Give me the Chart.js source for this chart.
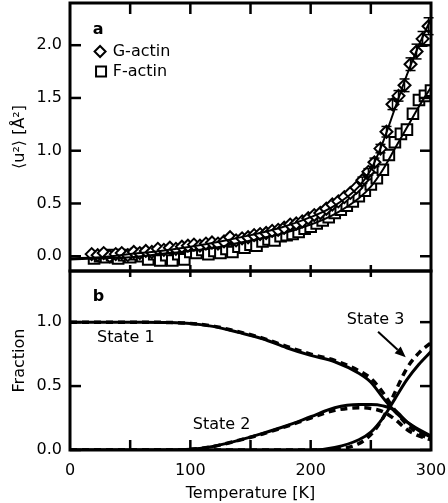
<!DOCTYPE html>
<html>
<head>
<meta charset="utf-8">
<script src="https://cdn.jsdelivr.net/npm/chart.js@4.4.0/dist/chart.umd.min.js"></script>
<style>
  body { margin: 0; background: #fff; }
  #wrap { position: relative; width: 448px; height: 503px; }
  #wrap canvas { position: absolute; left: 0; top: 0; }
</style>
</head>
<body>
<div id="wrap">
  <canvas id="msdChart" width="448" height="503"></canvas>
  <canvas id="fracChart" width="448" height="503"></canvas>
</div>
<script>
// ---- panel a: <u^2> vs temperature ----
const tempG = [18, 23, 28, 33, 38, 43, 48, 53, 58, 63, 68, 73, 78, 83, 88, 93, 98, 103, 108, 113,
  118, 123, 128, 133, 138, 143, 148, 153, 158, 163, 168, 173, 178, 183, 188, 193, 198, 203, 208, 213,
  218, 223, 228, 233, 238, 243, 248, 253, 258, 263, 268, 273, 278, 283, 288, 293, 298];
const msdG = [0.02, 0.01, 0.03, 0.00, 0.02, 0.03, 0.01, 0.04, 0.03, 0.05, 0.04, 0.07, 0.06, 0.08, 0.07, 0.09, 0.10, 0.11, 0.10, 0.12,
  0.13, 0.12, 0.14, 0.18, 0.15, 0.17, 0.18, 0.20, 0.21, 0.22, 0.24, 0.25, 0.27, 0.30, 0.31, 0.33, 0.36, 0.39, 0.41, 0.45,
  0.49, 0.52, 0.56, 0.60, 0.65, 0.72, 0.80, 0.89, 1.02, 1.18, 1.44, 1.52, 1.62, 1.82, 1.94, 2.06, 2.18];
const errG = [0, 0, 0, 0, 0, 0, 0, 0, 0, 0, 0, 0, 0, 0, 0, 0, 0, 0, 0, 0,
  0, 0, 0, 0, 0, 0, 0, 0, 0, 0, 0, 0, 0, 0, 0, 0, 0, 0, 0, 0,
  0, 0, 0, 0, 0, 0.03, 0.03, 0.04, 0.04, 0.05, 0.05, 0.05, 0.06, 0.06, 0.07, 0.07, 0.08];
const tempF = [20, 25, 30, 35, 40, 45, 50, 55, 60, 65, 70, 75, 80, 85, 90, 95, 100, 105, 110, 115,
  120, 125, 130, 135, 140, 145, 150, 155, 160, 165, 170, 175, 180, 185, 190, 195, 200, 205, 210, 215,
  220, 225, 230, 235, 240, 245, 250, 255, 260, 265, 270, 275, 280, 285, 290, 295, 300];
const msdF = [-0.02, 0.00, -0.01, 0.01, -0.02, 0.01, -0.01, 0.02, 0.00, -0.03, 0.02, -0.04, 0.01, -0.04, 0.02, -0.03, 0.04, 0.03, 0.06, 0.02,
  0.05, 0.03, 0.07, 0.04, 0.09, 0.08, 0.11, 0.10, 0.14, 0.16, 0.15, 0.19, 0.20, 0.21, 0.23, 0.26, 0.28, 0.31, 0.34, 0.37,
  0.41, 0.44, 0.48, 0.52, 0.57, 0.62, 0.68, 0.74, 0.82, 0.96, 1.08, 1.16, 1.20, 1.35, 1.48, 1.52, 1.57];
const fitTempA = [0, 25, 50, 75, 100, 125, 150, 175, 200, 220, 240, 250, 260, 270, 280, 290, 300];
const fitG = [-0.02, -0.01, 0.02, 0.05, 0.09, 0.14, 0.20, 0.27, 0.37, 0.48, 0.66, 0.82, 1.08, 1.40, 1.72, 2.00, 2.25];
const fitF = [-0.03, -0.02, -0.01, 0.02, 0.05, 0.09, 0.15, 0.21, 0.30, 0.40, 0.55, 0.66, 0.82, 1.02, 1.22, 1.42, 1.60];

// ---- panel b: state fractions ----
const fitTempB = [0, 20, 40, 60, 80, 100, 120, 140, 160, 180, 200, 220, 240, 250, 260, 270, 280, 290, 300];
const state1 = [1, 1, 1, 1, 0.998, 0.99, 0.965, 0.92, 0.87, 0.80, 0.74, 0.69, 0.60, 0.53, 0.41, 0.30, 0.22, 0.16, 0.11];
const state1Dash = [1, 1, 1, 1, 0.998, 0.99, 0.967, 0.925, 0.875, 0.81, 0.75, 0.70, 0.62, 0.56, 0.45, 0.31, 0.20, 0.13, 0.08];
const state2 = [0, 0, 0, 0, 0, 0.005, 0.03, 0.075, 0.13, 0.19, 0.26, 0.33, 0.355, 0.355, 0.345, 0.31, 0.22, 0.15, 0.10];
const state2Dash = [0, 0, 0, 0, 0, 0.005, 0.03, 0.075, 0.125, 0.185, 0.25, 0.31, 0.33, 0.325, 0.30, 0.24, 0.16, 0.11, 0.08];
const state3 = [0, 0, 0, 0, 0, 0, 0, 0, 0, 0, 0, 0.02, 0.08, 0.14, 0.25, 0.40, 0.55, 0.67, 0.77];
const state3Dash = [0, 0, 0, 0, 0, 0, 0, 0, 0, 0, 0, 0.005, 0.05, 0.12, 0.25, 0.45, 0.64, 0.76, 0.84];

// ticks
const xLabels = [0, 100, 200, 300];
const xMarks = [50, 100, 150, 200, 250];
const yTicksA = [0, 0.5, 1, 1.5, 2];
const yTicksB = [0, 0.5, 1];

const FONT = "'DejaVu Sans', sans-serif";
const TICK = 11;

function pts(xs, ys) {
  return xs.map((x, i) => ({ x: x, y: ys[i] }));
}

function seg(ctx, x1, y1, x2, y2) {
  ctx.beginPath();
  ctx.moveTo(x1, y1);
  ctx.lineTo(x2, y2);
  ctx.stroke();
}

// thick box round the plot area plus inward tick marks
const framePlugin = {
  id: 'frame',
  afterDraw(chart, args, opts) {
    const { ctx, chartArea: a, scales: { x, y } } = chart;
    ctx.save();
    ctx.strokeStyle = '#000';
    ctx.lineWidth = 2.5;
    (opts.yTicks || []).forEach(v => {
      const py = y.getPixelForValue(v);
      seg(ctx, a.left, py, a.left + TICK, py);
      seg(ctx, a.right, py, a.right - TICK, py);
    });
    (opts.topTicks || []).forEach(v => {
      const px = x.getPixelForValue(v);
      seg(ctx, px, a.top, px, a.top + TICK);
    });
    (opts.bottomTicks || []).forEach(v => {
      const px = x.getPixelForValue(v);
      seg(ctx, px, a.bottom + (opts.bottomCross ? 6 : 0), px, a.bottom - (opts.bottomCross ? 6 : 10));
    });
    ctx.lineWidth = 3;
    ctx.strokeRect(a.left, a.top, a.right - a.left, a.bottom - a.top);
    ctx.restore();
  }
};

// vertical error bars with caps
const errorBarPlugin = {
  id: 'errorBars',
  afterDatasetsDraw(chart) {
    const { ctx, scales: { x, y } } = chart;
    ctx.save();
    ctx.strokeStyle = '#000';
    ctx.lineWidth = 1.5;
    chart.data.datasets.forEach(ds => {
      if (!ds.errors) return;
      ds.data.forEach((p, i) => {
        const e = ds.errors[i];
        if (!e) return;
        const px = x.getPixelForValue(p.x);
        const top = y.getPixelForValue(p.y + e);
        const bot = y.getPixelForValue(p.y - e);
        seg(ctx, px, top, px, bot);
        seg(ctx, px - 5, top, px + 5, top);
        seg(ctx, px - 5, bot, px + 5, bot);
      });
    });
    ctx.restore();
  }
};

// text labels, legend and arrow placed in data coordinates
const notesPlugin = {
  id: 'notes',
  afterDraw(chart, args, opts) {
    const { ctx, scales: { x, y } } = chart;
    ctx.save();
    ctx.fillStyle = '#000';
    ctx.strokeStyle = '#000';
    ctx.textBaseline = 'middle';
    ctx.textAlign = 'left';
    (opts.texts || []).forEach(t => {
      ctx.font = (t.bold ? 'bold ' : '') + '16px ' + FONT;
      ctx.fillText(t.text, x.getPixelForValue(t.x), y.getPixelForValue(t.y));
    });
    (opts.markers || []).forEach(m => {
      const px = x.getPixelForValue(m.x);
      const py = y.getPixelForValue(m.y);
      ctx.lineWidth = 2;
      ctx.fillStyle = '#fff';
      ctx.beginPath();
      if (m.shape === 'diamond') {
        ctx.moveTo(px, py - 5.5); ctx.lineTo(px + 5.5, py);
        ctx.lineTo(px, py + 5.5); ctx.lineTo(px - 5.5, py);
        ctx.closePath();
      } else {
        ctx.rect(px - 5, py - 5, 10, 10);
      }
      ctx.fill();
      ctx.stroke();
    });
    (opts.arrows || []).forEach(ar => {
      const x1 = x.getPixelForValue(ar.x1), y1 = y.getPixelForValue(ar.y1);
      const x2 = x.getPixelForValue(ar.x2), y2 = y.getPixelForValue(ar.y2);
      const ang = Math.atan2(y2 - y1, x2 - x1);
      const hl = 11, hw = 4.5;
      const bx = x2 - hl * Math.cos(ang), by = y2 - hl * Math.sin(ang);
      ctx.lineWidth = 2;
      seg(ctx, x1, y1, bx, by);
      ctx.fillStyle = '#000';
      ctx.beginPath();
      ctx.moveTo(x2, y2);
      ctx.lineTo(bx + hw * Math.sin(ang), by - hw * Math.cos(ang));
      ctx.lineTo(bx - hw * Math.sin(ang), by + hw * Math.cos(ang));
      ctx.closePath();
      ctx.fill();
    });
    ctx.restore();
  }
};

function yAxis(min, max, ticks, title) {
  return {
    type: 'linear',
    min: min,
    max: max,
    afterBuildTicks: s => { s.ticks = ticks.map(v => ({ value: v })); },
    afterFit: s => { s.width = 70; s.paddingTop = 0; s.paddingBottom = 0; },
    grid: { display: false, drawTicks: false },
    border: { display: false },
    ticks: {
      color: '#000',
      padding: 8,
      font: { family: FONT, size: 16 },
      callback: v => v.toFixed(1)
    },
    title: {
      display: true,
      text: title,
      color: '#000',
      padding: { top: 10, bottom: 0 },
      font: { family: FONT, size: 16 }
    }
  };
}

function fitLine(xs, ys, dashed, width) {
  return {
    data: pts(xs, ys),
    showLine: true,
    borderColor: '#000',
    borderWidth: width,
    borderDash: dashed ? [7, 5] : [],
    pointRadius: 0,
    cubicInterpolationMode: 'monotone',
    order: 0
  };
}

new Chart(document.getElementById('msdChart'), {
  type: 'scatter',
  data: {
    datasets: [
      fitLine(fitTempA, fitG, false, 2),
      fitLine(fitTempA, fitF, false, 2),
      {
        label: 'G-actin',
        data: pts(tempG, msdG),
        errors: errG,
        pointStyle: 'rectRot',
        pointRadius: 6,
        borderWidth: 2,
        borderColor: '#000',
        backgroundColor: '#fff',
        order: 1
      },
      {
        label: 'F-actin',
        data: pts(tempF, msdF),
        pointStyle: 'rect',
        pointRadius: 7.5,
        borderWidth: 2,
        borderColor: '#000',
        backgroundColor: '#fff',
        order: 2
      }
    ]
  },
  options: {
    responsive: false,
    animation: false,
    layout: { autoPadding: false, padding: { left: 0, right: 17, top: 3, bottom: 232 } },
    scales: {
      x: { type: 'linear', min: 0, max: 300, display: false },
      y: yAxis(-0.14, 2.4, yTicksA, '⟨u²⟩ [Å²]')
    },
    plugins: {
      legend: { display: false },
      tooltip: { enabled: false },
      frame: { yTicks: yTicksA, topTicks: xMarks, bottomTicks: xMarks, bottomCross: true },
      notes: {
        texts: [
          { text: 'a', x: 19, y: 2.15, bold: true },
          { text: 'G-actin', x: 35.5, y: 1.94 },
          { text: 'F-actin', x: 35.5, y: 1.75 }
        ],
        markers: [
          { shape: 'diamond', x: 25, y: 1.94 },
          { shape: 'square', x: 25.8, y: 1.75 }
        ]
      }
    }
  },
  plugins: [errorBarPlugin, framePlugin, notesPlugin]
});

new Chart(document.getElementById('fracChart'), {
  type: 'scatter',
  data: {
    datasets: [
      fitLine(fitTempB, state1, false, 3),
      fitLine(fitTempB, state1Dash, true, 3.5),
      fitLine(fitTempB, state2, false, 3),
      fitLine(fitTempB, state2Dash, true, 3.5),
      fitLine(fitTempB, state3, false, 3),
      fitLine(fitTempB, state3Dash, true, 3.5)
    ]
  },
  options: {
    responsive: false,
    animation: false,
    layout: { autoPadding: false, padding: { left: 0, right: 17, top: 271, bottom: 0 } },
    scales: {
      x: {
        type: 'linear',
        min: 0,
        max: 300,
        afterBuildTicks: s => { s.ticks = xLabels.map(v => ({ value: v })); },
        afterFit: s => { s.height = 53; s.paddingLeft = 0; s.paddingRight = 0; },
        grid: { display: false, drawTicks: false },
        border: { display: false },
        ticks: { color: '#000', padding: 11, maxRotation: 0, font: { family: FONT, size: 16 } },
        title: {
          display: true,
          text: 'Temperature [K]',
          color: '#000',
          padding: { top: 0, bottom: 0 },
          font: { family: FONT, size: 16 }
        }
      },
      y: yAxis(0, 1.4, yTicksB, 'Fraction')
    },
    plugins: {
      legend: { display: false },
      tooltip: { enabled: false },
      frame: { yTicks: yTicksB, bottomTicks: xMarks },
      notes: {
        texts: [
          { text: 'b', x: 19, y: 1.195, bold: true },
          { text: 'State 1', x: 22.5, y: 0.88 },
          { text: 'State 2', x: 102, y: 0.2 },
          { text: 'State 3', x: 230, y: 1.02 }
        ],
        arrows: [{ x1: 256, y1: 0.925, x2: 279, y2: 0.725 }]
      }
    }
  },
  plugins: [framePlugin, notesPlugin]
});
</script>
</body>
</html>
